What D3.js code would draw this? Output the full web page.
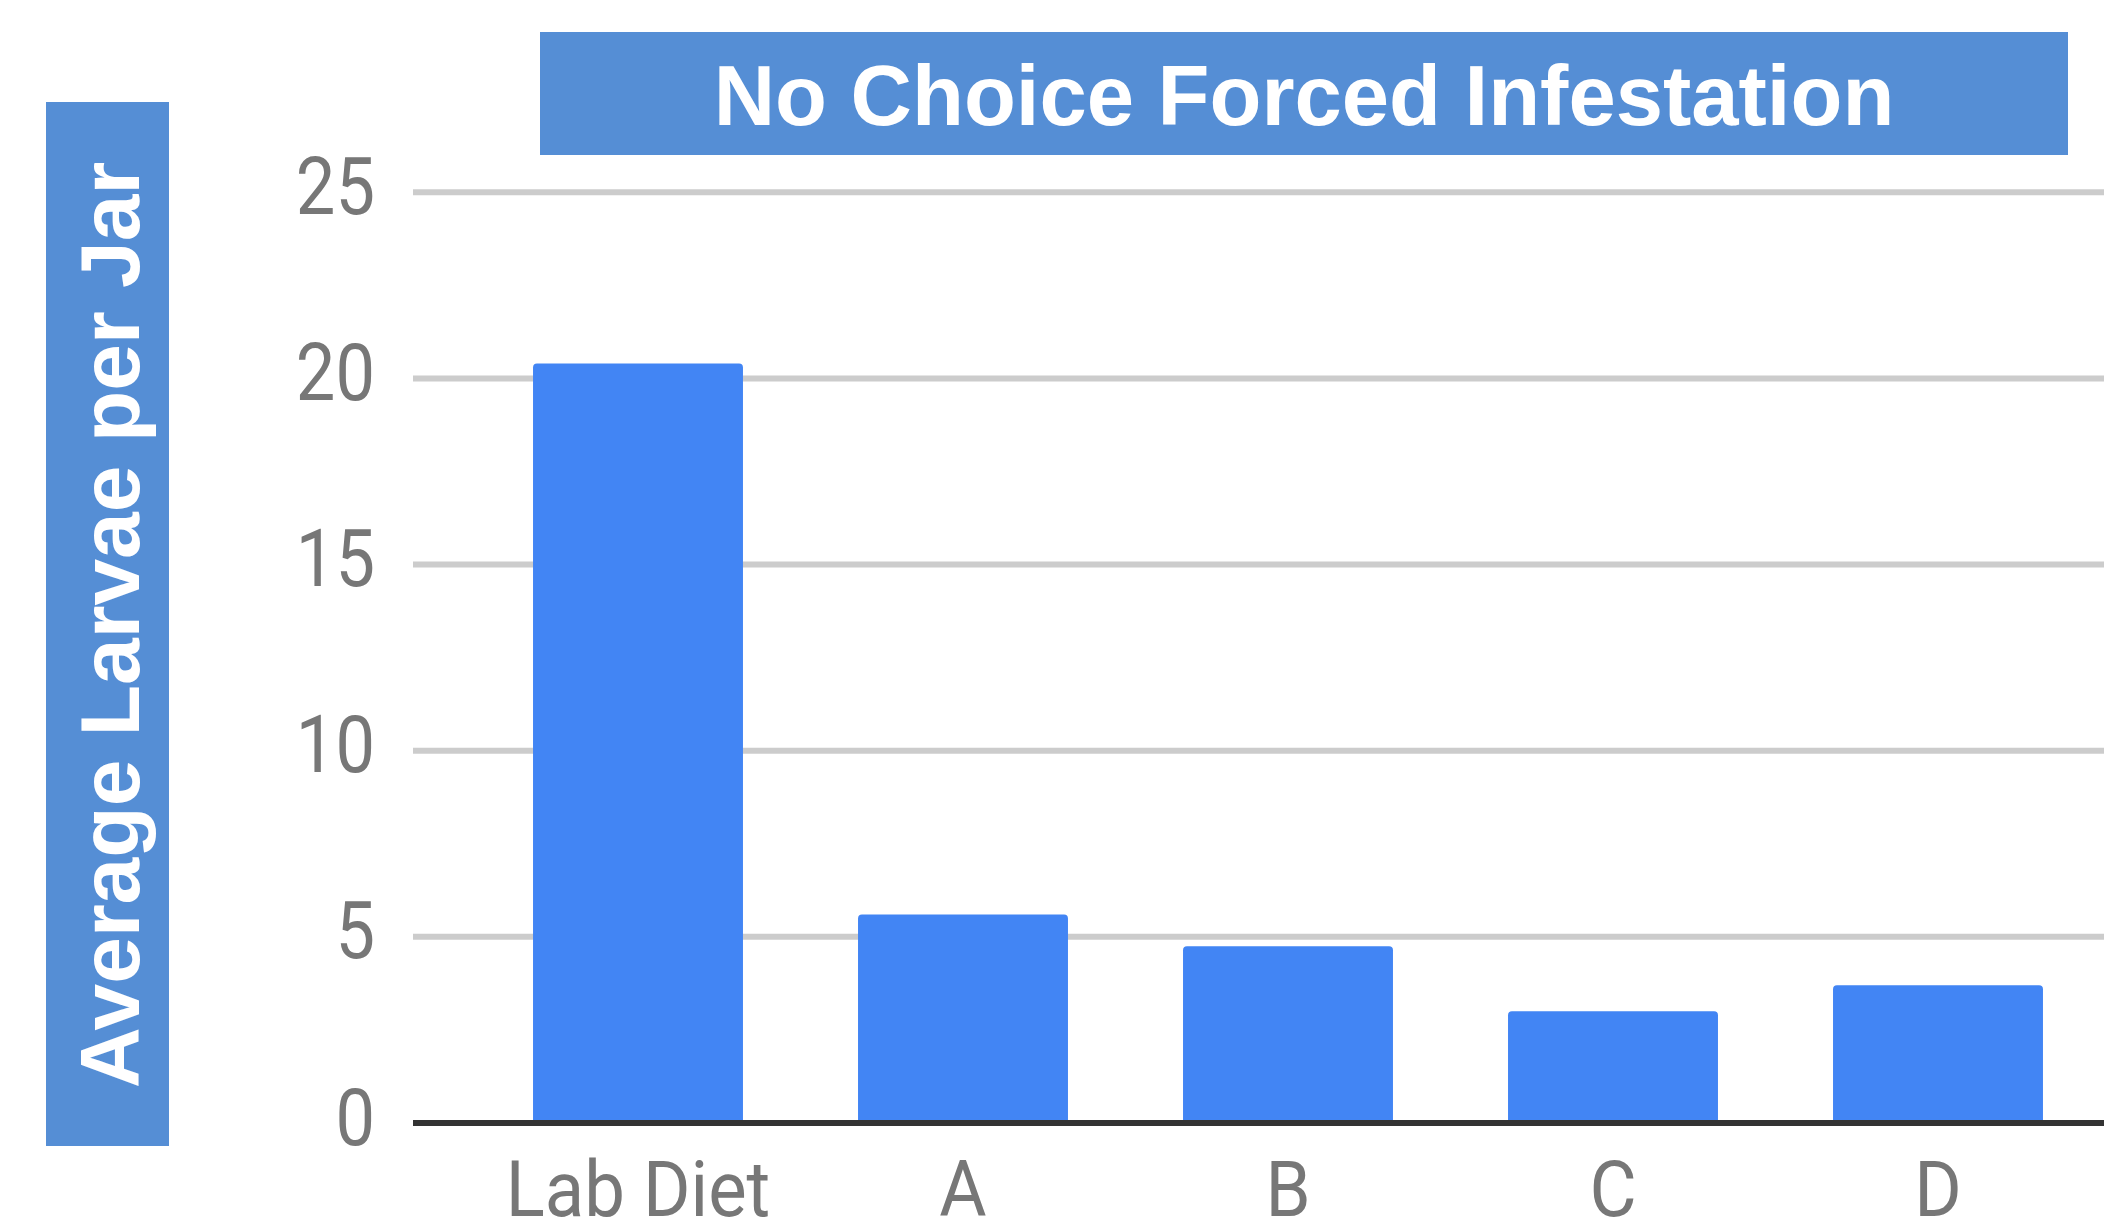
<!DOCTYPE html>
<html>
<head>
<meta charset="utf-8">
<script src="https://cdn.jsdelivr.net/npm/d3@7"></script>
<style>
  html, body { margin: 0; padding: 0; background: #fff; }
  svg { display: block; }
</style>
</head>
<body>
<script>
// ---- data ----
const categories = ["Lab Diet", "A", "B", "C", "D"];
const values = [20.4, 5.6, 4.75, 3.0, 3.7];
const yTicks = [0, 5, 10, 15, 20, 25];
const titleText = "No Choice Forced Infestation";
const yAxisLabel = "Average Larvae per Jar";

// ---- layout ----
const W = 2104, H = 1226;
const gridLeft = 413, gridRight = 2104;
const svg = d3.select("body").append("svg").attr("width", W).attr("height", H);

const x = d3.scaleBand().domain(categories).range([475.5, 2100.5])
  .paddingInner(0.354).paddingOuter(0.177);
const y = d3.scaleLinear().domain([0, 25]).range([1123, 192.3]);

// title box
svg.append("rect").attr("x", 540).attr("y", 32).attr("width", 1528).attr("height", 123)
  .attr("fill", "#558ed5");
svg.append("text").attr("x", 1304).attr("y", 125).attr("text-anchor", "middle")
  .attr("font-family", "'Liberation Sans', Arial, sans-serif").attr("font-weight", "bold")
  .attr("font-size", 85).attr("fill", "#fff").text(titleText);

// y label box
svg.append("rect").attr("x", 46).attr("y", 102).attr("width", 123).attr("height", 1044)
  .attr("fill", "#558ed5");
svg.append("text").attr("transform", "translate(139,625) rotate(-90)")
  .attr("text-anchor", "middle")
  .attr("font-family", "'Liberation Sans', Arial, sans-serif").attr("font-weight", "bold")
  .attr("font-size", 84).attr("fill", "#fff").text(yAxisLabel);

// gridlines
svg.append("g").selectAll("line").data(yTicks.filter(d => d !== 0)).join("line")
  .attr("x1", gridLeft).attr("x2", gridRight)
  .attr("y1", d => y(d)).attr("y2", d => y(d))
  .attr("stroke", "#cccccc").attr("stroke-width", 6);

// y tick labels
svg.append("g").selectAll("text").data(yTicks).join("text")
  .attr("transform", d => `translate(375,${y(d) + 21.5}) scale(0.88,1)`)
  .attr("text-anchor", "end")
  .attr("font-family", "Roboto, sans-serif").attr("font-size", 80)
  .attr("fill", "#777").text(d => d);

// bars
svg.append("g").selectAll("rect").data(categories).join("rect")
  .attr("x", d => x(d)).attr("width", x.bandwidth())
  .attr("y", (d, i) => y(values[i]))
  .attr("height", (d, i) => y(0) - 3 - y(values[i]) + 4)
  .attr("rx", 4).attr("ry", 4)
  .attr("fill", "#4285f4");

// baseline
svg.append("line").attr("x1", gridLeft).attr("x2", gridRight)
  .attr("y1", y(0)).attr("y2", y(0))
  .attr("stroke", "#333333").attr("stroke-width", 6);

// x labels
svg.append("g").selectAll("text").data(categories).join("text")
  .attr("transform", d => `translate(${x(d) + x.bandwidth() / 2},1216) scale(0.93,1)`)
  .attr("text-anchor", "middle")
  .attr("font-family", "Roboto, sans-serif").attr("font-size", 78)
  .attr("fill", "#777").text(d => d);
</script>
</body>
</html>
